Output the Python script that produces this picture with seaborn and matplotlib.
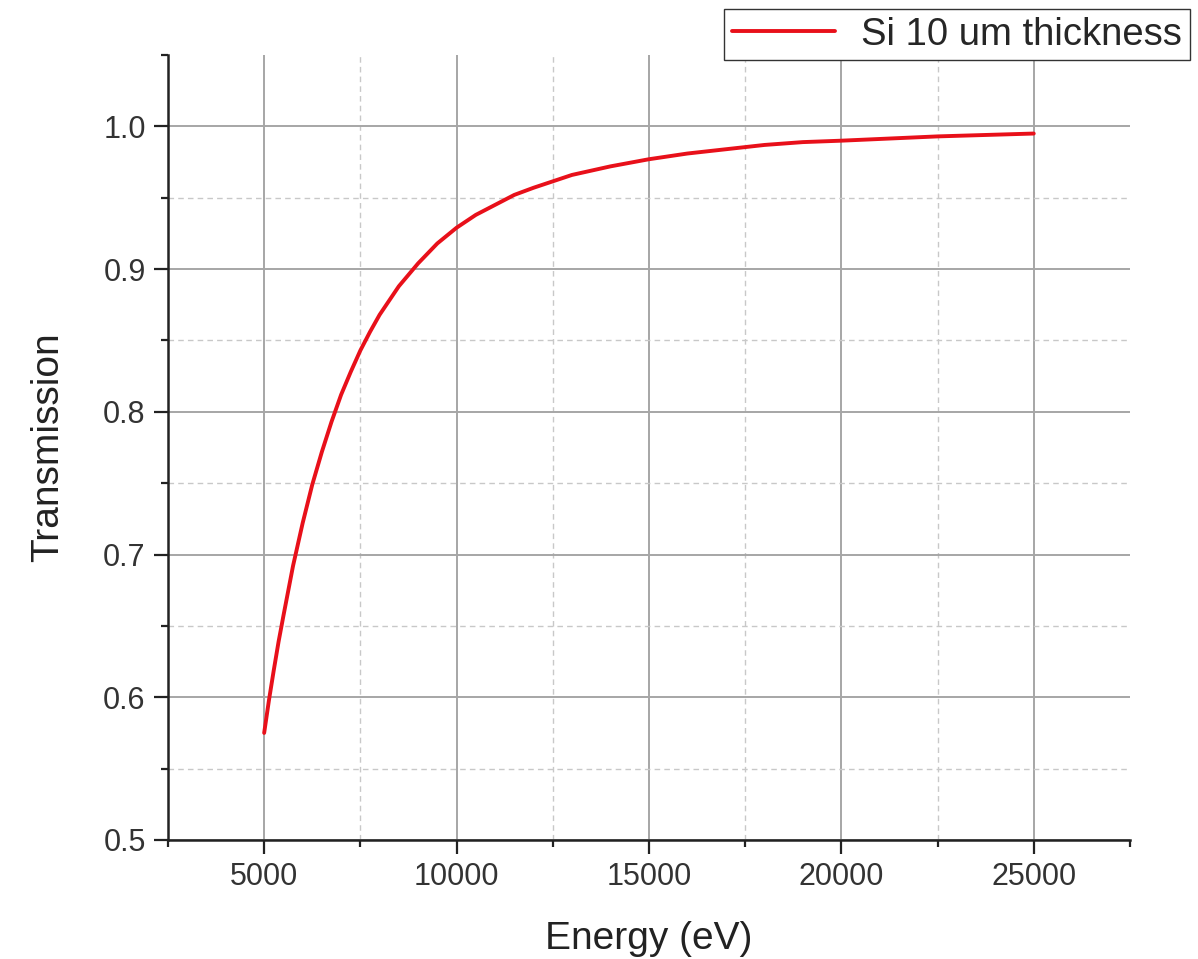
"""Si 10 um transmission vs energy"""

import matplotlib

matplotlib.use("Agg")
import matplotlib.pyplot as plt
from matplotlib.ticker import MultipleLocator
import pandas as pd
import seaborn as sns

# Values
energy_ev = [5000, 5125, 5250, 5375, 5500, 5750, 6000, 6250, 6500, 6750,
             7000, 7250, 7500, 7750, 8000, 8500, 9000, 9500, 10000, 10500,
             11000, 11500, 12000, 13000, 14000, 15000, 16000, 17000, 18000,
             19000, 20000, 22500, 25000]
transmission = [0.575, 0.598, 0.619, 0.639, 0.657, 0.692, 0.722, 0.749,
                0.772, 0.793, 0.812, 0.828, 0.843, 0.856, 0.868, 0.888,
                0.904, 0.918, 0.929, 0.938, 0.945, 0.952, 0.957, 0.966,
                0.972, 0.977, 0.981, 0.984, 0.987, 0.989, 0.990, 0.993,
                0.995]
series_label = "Si 10 um thickness"

sns.set_style("white")
plt.rcParams["font.family"] = ["Liberation Sans", "DejaVu Sans"]

df = pd.DataFrame({"Energy": energy_ev, "Transmission": transmission})

fig = plt.figure(figsize=(11.98, 9.59), dpi=100)
ax = fig.add_axes([0.1402, 0.1241, 0.803, 0.8185])

sns.lineplot(data=df, x="Energy", y="Transmission", ax=ax, color="#e8101a",
             linewidth=2.8, label=series_label, legend=False)

ax.set_xlim(2500, 27500)
ax.set_ylim(0.5, 1.05)
ax.xaxis.set_major_locator(MultipleLocator(5000))
ax.xaxis.set_minor_locator(MultipleLocator(2500))
ax.yaxis.set_major_locator(MultipleLocator(0.1))
ax.yaxis.set_minor_locator(MultipleLocator(0.05))
ax.yaxis.set_major_formatter(lambda v, p: f"{v:.1f}")

# Grid: solid major, dashed minor
ax.grid(which="major", color="#a6a6a6", linewidth=1.4, linestyle="-")
ax.grid(which="minor", color="#c8c8c8", linewidth=1.0, linestyle=(0, (4, 3)))
ax.set_axisbelow(True)

for side in ["top", "right"]:
    ax.spines[side].set_visible(False)
for side in ["left", "bottom"]:
    ax.spines[side].set_color("#222222")
    ax.spines[side].set_linewidth(1.8)

ax.tick_params(which="major", direction="out", length=10, width=1.6,
               color="#222222", labelsize=22, labelcolor="#333333", pad=6,
               left=True, bottom=True)
ax.tick_params(which="minor", direction="out", length=5, width=1.6,
               color="#222222", left=True, bottom=True)

ax.set_xlabel("Energy (eV)", fontsize=28, color="#222222", labelpad=21)
ax.set_ylabel("Transmission", fontsize=28, color="#222222", labelpad=27)

# no grid lines along the open top and right edges
fig.canvas.draw()
for tick in ax.xaxis.get_minor_ticks():
    if tick.get_loc() >= 27500 or tick.get_loc() <= 2500:
        tick.gridline.set_visible(False)
for tick in ax.yaxis.get_minor_ticks():
    if tick.get_loc() >= 1.049:
        tick.gridline.set_visible(False)

handles, labels = ax.get_legend_handles_labels()
fig.legend(handles, labels, loc="upper right",
           bbox_to_anchor=(1190 / 1198, 1 - 9 / 959), fontsize=27.5,
           frameon=True, fancybox=False, edgecolor="#333333",
           framealpha=1, borderpad=0.2, handlelength=2.7, handletextpad=0.7,
           borderaxespad=0)

fig.savefig("out.png", dpi=100)
